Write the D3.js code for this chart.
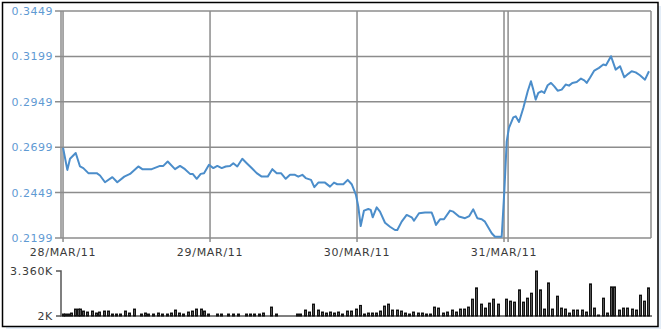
<!DOCTYPE html>
<html lang="en">
<meta charset="utf-8">
<style type="text/css">
        body {
          margin: 0;
          background: #fff;
        }
        svg {
          display: block;
          font-family: "DejaVu Sans", Verdana, sans-serif;
        }
        .grid {
          stroke: #8c8c8c;
          stroke-width: 1.5px;
          fill: none;
        }
        .price {
          stroke: #4b8dca;
          stroke-width: 2px;
          fill: none;
          stroke-linejoin: round;
        }
        .ylab {
          fill: #5f9ad3;
          font-size: 11px;
          letter-spacing: 0.5px;
        }
        .xlab, .vlab {
          fill: #3a3a3a;
          font-size: 11px;
          letter-spacing: 0.7px;
        }
        .vol {
          fill: #555;
          stroke: #111;
          stroke-width: 1px;
        }
</style>
<body>
<script src="https://d3js.org/d3.v7.min.js" type="text/javascript"></script>
<script>
// hours since 28/MAR/11 00:00
var priceHours = [0.00, 0.70, 1.14, 2.07, 2.77, 3.31, 4.13, 5.50, 6.04, 6.85, 8.05, 8.86, 10.00, 10.94, 12.29, 12.94,
    14.48, 15.83, 16.37, 17.09, 18.28, 19.10, 19.91, 20.73, 21.17, 21.83, 22.48, 23.02, 23.83, 24.54, 25.19, 25.91,
    26.56, 27.26, 27.80, 28.45, 29.27, 29.99, 30.80, 31.62, 32.44, 33.42, 34.17, 34.89, 35.59, 36.36, 37.06, 37.87,
    38.41, 39.07, 39.62, 40.49, 41.03, 41.68, 42.77, 43.59, 44.24, 44.78, 45.76, 46.48, 47.13, 47.83, 48.21, 48.60,
    49.14, 49.84, 50.23, 50.56, 51.21, 51.75, 52.57, 53.38, 54.20, 54.58, 55.29, 56.11, 56.93, 57.30, 58.12, 59.10,
    60.19, 60.45, 60.89, 61.55, 62.20, 63.18, 63.72, 64.65, 65.63, 66.33, 66.98, 67.64, 68.36, 68.89, 69.99, 70.53,
    71.62, 72.05, 72.44, 72.81, 73.52, 73.91, 74.45, 75.15, 75.87, 76.40, 76.78, 77.17, 77.60, 78.15, 78.58, 79.13,
    79.67, 80.21, 80.76, 81.42, 82.07, 82.61, 83.15, 83.87, 84.57, 85.11, 85.50, 86.04, 86.74, 87.51, 88.21, 88.65,
    89.47, 90.23, 90.94, 91.64, 92.29, 92.84, 93.50, 94.20, 95.02, 95.67];
var priceValues = [0.2696, 0.2574, 0.2635, 0.2667, 0.2593, 0.2584, 0.2556, 0.2556, 0.2543, 0.2506, 0.2534, 0.2506,
    0.2537, 0.2552, 0.2593, 0.2578, 0.2578, 0.2596, 0.2596, 0.2620, 0.2578, 0.2596, 0.2578, 0.2552, 0.2552, 0.2525,
    0.2552, 0.2556, 0.2602, 0.2584, 0.2596, 0.2584, 0.2593, 0.2596, 0.2611, 0.2593, 0.2635, 0.2611, 0.2584, 0.2556,
    0.2537, 0.2537, 0.2578, 0.2556, 0.2556, 0.2525, 0.2547, 0.2547, 0.2537, 0.2547, 0.2529, 0.2519, 0.2479, 0.2504,
    0.2504, 0.2482, 0.2504, 0.2495, 0.2495, 0.2519, 0.2495, 0.2436, 0.2372, 0.2265, 0.2350, 0.2359, 0.2354, 0.2313,
    0.2368, 0.2344, 0.2283, 0.2261, 0.2243, 0.2243, 0.2289, 0.2326, 0.2313, 0.2294, 0.2335, 0.2339, 0.2339, 0.2317,
    0.2271, 0.2302, 0.2302, 0.2350, 0.2344, 0.2317, 0.2308, 0.2320, 0.2357, 0.2308, 0.2302, 0.2289, 0.2225, 0.2206,
    0.2206, 0.2455, 0.2731, 0.2805, 0.2863, 0.2869, 0.2838, 0.2915, 0.3007, 0.3062, 0.3016, 0.2961, 0.2998, 0.3007,
    0.2998, 0.3040, 0.3053, 0.3034, 0.3010, 0.3016, 0.3044, 0.3038, 0.3053, 0.3058, 0.3077, 0.3067, 0.3053, 0.3081,
    0.3121, 0.3136, 0.3154, 0.3150, 0.3200, 0.3126, 0.3145, 0.3084, 0.3103, 0.3117, 0.3111, 0.3095, 0.3071, 0.3117];

var volumeHours = [0.00, 0.33, 0.87, 1.31, 1.96, 2.40, 2.78, 3.32, 3.86, 4.68, 5.33, 5.88, 6.75, 7.29, 8.05, 8.65,
    9.31, 10.12, 10.78, 11.54, 12.73, 13.39, 13.93, 14.75, 15.56, 16.22, 16.93, 17.63, 18.29, 18.94, 19.64, 20.36,
    21.01, 21.67, 22.53, 23.07, 23.73, 25.09, 25.80, 26.99, 27.80, 28.52, 29.83, 30.53, 31.23, 32.00, 32.70, 33.96,
    34.73, 38.15, 38.69, 39.51, 40.16, 40.87, 41.58, 42.24, 42.89, 43.59, 44.29, 44.95, 45.60, 46.32, 47.02, 47.79,
    48.49, 49.14, 49.75, 50.40, 51.05, 51.76, 52.46, 53.11, 53.76, 54.48, 55.18, 55.84, 56.49, 57.19, 57.91, 58.56,
    59.22, 59.92, 60.57, 61.27, 62.09, 62.74, 63.46, 64.11, 64.82, 65.52, 66.17, 66.82, 67.43, 68.24, 68.90, 69.55,
    70.25, 70.97, 72.28, 72.98, 73.68, 74.45, 75.05, 75.80, 76.41, 77.18, 77.88, 78.53, 79.23, 79.89, 80.60, 81.31,
    81.96, 82.61, 83.31, 83.97, 84.69, 85.39, 86.04, 86.69, 87.40, 88.11, 88.77, 89.42, 90.01, 90.78, 91.48, 92.13,
    92.85, 93.50, 94.20, 94.86, 95.56];
var volumeValues = [2060, 2060, 2060, 2090, 2210, 2210, 2210, 2150, 2120, 2150, 2090, 2120, 2150, 2150, 2060, 2060,
    2060, 2150, 2090, 2210, 2060, 2090, 2060, 2060, 2090, 2060, 2060, 2090, 2180, 2090, 2060, 2120,
    2150, 2210, 2210, 2150, 2060, 2060, 2060, 2060, 2060, 2060, 2060, 2060, 2060, 2060, 2090, 2270,
    2060, 2060, 2060, 2180, 2120, 2360, 2180, 2120, 2090, 2120, 2090, 2120, 2060, 2150, 2150, 2210,
    2320, 2060, 2090, 2090, 2090, 2150, 2300, 2360, 2180, 2180, 2150, 2090, 2060, 2120, 2090, 2090,
    2060, 2060, 2270, 2240, 2090, 2120, 2180, 2120, 2210, 2210, 2270, 2510, 2850, 2360, 2240, 2390,
    2510, 2360, 2510, 2450, 2420, 2790, 2420, 2540, 2690, 3360, 2790, 2210, 3000, 2210, 2600, 2240,
    2210, 2090, 2180, 2180, 2180, 2120, 2970, 2240, 2030, 2540, 2090, 2880, 2880, 2180, 2240, 2240,
    2210, 2180, 2630, 2450, 2850];

var dayTicks = [new Date(2011, 2, 28), new Date(2011, 2, 29), new Date(2011, 2, 30), new Date(2011, 2, 31)];
var sessionBreaks = [new Date(2011, 2, 31, 0, 40)];
var priceTicks = [0.2199, 0.2449, 0.2699, 0.2949, 0.3199, 0.3449];
var volumeTicks = [2000, 3360];
var volumeTickLabels = ["2K", "3.360K"];

var width = 661,
    height = 329;
var base = new Date(2011, 2, 28);
function toDate(h) { return new Date(base.getTime() + h * 3600e3); }

var price = priceHours.map(function (h, i) { return {t: toDate(h), v: priceValues[i]}; });
var volume = volumeHours.map(function (h, i) { return {t: toDate(h), v: volumeValues[i]}; });

var svg = d3.select("body").append("svg")
    .attr("width", width)
    .attr("height", height);

// frame with offset shadow
svg.append("rect")
    .attr("x", 6).attr("y", 6)
    .attr("width", width - 6).attr("height", height - 6)
    .attr("fill", "#e4edf7");
svg.append("rect")
    .attr("x", 2.5).attr("y", 2.5)
    .attr("width", 655.5).attr("height", 324)
    .attr("fill", "#fff")
    .attr("stroke", "#000")
    .attr("stroke-width", 1.5);

var x = d3.scaleTime()
    .domain([new Date(2011, 2, 27, 23, 40), new Date(2011, 3, 1)])
    .range([61, 651]);
var y = d3.scaleLinear()
    .domain([priceTicks[0], priceTicks[priceTicks.length - 1]])
    .range([238, 11]);
var vy = d3.scaleLinear()
    .domain(volumeTicks)
    .range([316, 271]);

// horizontal grid + tick dashes
svg.selectAll(".hgrid")
    .data(priceTicks)
    .enter().append("line")
    .attr("class", "grid")
    .attr("x1", 55).attr("x2", x.range()[1])
    .attr("y1", function (d) { return y(d); })
    .attr("y2", function (d) { return y(d); });

// vertical grid
svg.selectAll(".vgrid")
    .data(dayTicks.concat(sessionBreaks))
    .enter().append("line")
    .attr("class", "grid")
    .attr("x1", function (d) { return x(d); })
    .attr("x2", function (d) { return x(d); })
    .attr("y1", y.range()[1]).attr("y2", y.range()[0] + 4);

// plot edges
svg.append("line").attr("class", "grid")
    .attr("x1", x.range()[0]).attr("x2", x.range()[0])
    .attr("y1", y.range()[1]).attr("y2", y.range()[0]);
svg.append("line").attr("class", "grid")
    .attr("x1", x.range()[1]).attr("x2", x.range()[1])
    .attr("y1", y.range()[1]).attr("y2", y.range()[0]);

svg.selectAll(".ylab")
    .data(priceTicks)
    .enter().append("text")
    .attr("class", "ylab")
    .attr("x", 53)
    .attr("y", function (d) { return y(d); })
    .attr("dy", "0.36em")
    .attr("text-anchor", "end")
    .text(function (d) { return d3.format(".4f")(d); });

svg.selectAll(".xlab")
    .data(dayTicks)
    .enter().append("text")
    .attr("class", "xlab")
    .attr("x", function (d) { return x(d); })
    .attr("y", 256)
    .attr("text-anchor", "middle")
    .text(function (d) { return d3.timeFormat("%d/%b/%y")(d).toUpperCase(); });

var line = d3.line()
    .x(function (d) { return x(d.t); })
    .y(function (d) { return y(d.v); });

svg.append("path")
    .datum(price)
    .attr("class", "price")
    .attr("d", line);

// volume panel
svg.append("path")
    .attr("d", "M56," + vy(volumeTicks[1]) + "H" + x.range()[0] + "V" + vy(volumeTicks[0]) + "H" + (x.range()[1] + 1))
    .attr("fill", "none")
    .attr("stroke", "#555")
    .attr("stroke-width", 1.5);
svg.append("line")
    .attr("x1", 56).attr("x2", x.range()[0])
    .attr("y1", vy(volumeTicks[0])).attr("y2", vy(volumeTicks[0]))
    .attr("stroke", "#555").attr("stroke-width", 1.5);

svg.selectAll(".vol")
    .data(volume)
    .enter().append("rect")
    .attr("class", "vol")
    .attr("x", function (d) { return Math.round(x(d.t)) - 0.5; })
    .attr("width", 2)
    .attr("y", function (d) { return vy(d.v); })
    .attr("height", function (d) { return vy.range()[0] - vy(d.v); });

svg.selectAll(".vlab")
    .data(volumeTicks)
    .enter().append("text")
    .attr("class", "vlab")
    .attr("x", 53)
    .attr("y", function (d) { return vy(d); })
    .attr("dy", "0.36em")
    .attr("text-anchor", "end")
    .text(function (d, i) { return volumeTickLabels[i]; });
</script>
</body>
</html>
